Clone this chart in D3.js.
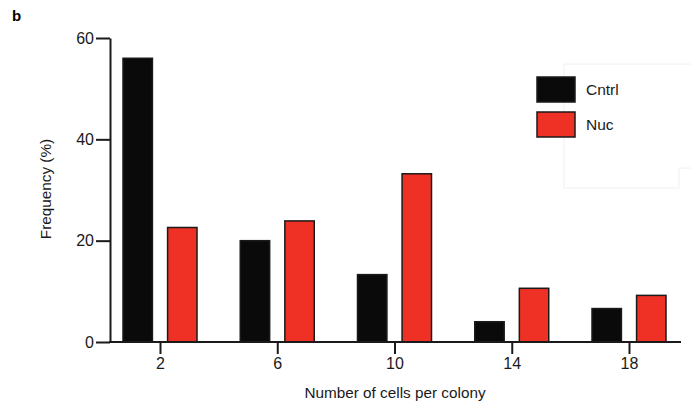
<!DOCTYPE html>
<html>
<head>
<meta charset="utf-8">
<script src="https://cdn.jsdelivr.net/npm/d3@7"></script>
<style>
  body { margin: 0; background: #fff; }
  text { font-family: "Liberation Sans", Arial, sans-serif; }
</style>
</head>
<body>
<div id="chart"></div>
<script>
// data
var colonySizes = ["2", "6", "10", "14", "18"];
var seriesNames = ["Cntrl", "Nuc"];
var cntrlValues = [56.0, 20.0, 13.3, 4.0, 6.6];
var nucValues = [22.6, 23.9, 33.2, 10.6, 9.2];
var yTicks = [0, 20, 40, 60];
var colors = ["#0a0a0a", "#ee3124"];

var svgWidth = 691, svgHeight = 414;

var svg = d3.select("#chart")
  .append("svg")
  .attr("width", svgWidth)
  .attr("height", svgHeight);

// scales
var xScale = d3.scalePoint()
  .domain(colonySizes)
  .range([160, 629]);

var xInner = d3.scaleBand()
  .domain(seriesNames)
  .range([-37, 37])
  .paddingInner(0.34);

var yScale = d3.scaleLinear()
  .domain([0, 60])
  .range([342, 38]);

// faint leftover box behind the legend
svg.append("path")
  .attr("d", "M564,64 H691 M564,64 V188 H679 V168 H691")
  .attr("fill", "none")
  .attr("stroke", "#f0f0f0")
  .attr("stroke-width", 1);

// bars
var rows = colonySizes.map(function(c, i) {
  return { size: c, values: [cntrlValues[i], nucValues[i]] };
});

var groups = svg.selectAll("g.grp")
  .data(rows)
  .enter()
  .append("g")
  .attr("class", "grp")
  .attr("transform", d => `translate(${xScale(d.size)},0)`);

groups.selectAll("rect")
  .data(d => d.values.map((v, j) => ({ name: seriesNames[j], value: v, j: j })))
  .enter()
  .append("rect")
  .attr("x", d => xInner(d.name))
  .attr("width", xInner.bandwidth())
  .attr("y", d => yScale(d.value))
  .attr("height", d => yScale(0) - yScale(d.value))
  .attr("fill", d => colors[d.j])
  .attr("stroke", "#1a1a1a")
  .attr("stroke-width", 1.5);

// axes
var xAxis = d3.axisBottom(xScale).tickSize(12).tickSizeOuter(0).tickPadding(4);
var yAxis = d3.axisLeft(yScale).tickValues(yTicks).tickSize(14).tickSizeOuter(0).tickPadding(2);

var gx = svg.append("g")
  .attr("transform", `translate(0, ${yScale(0)})`)
  .call(xAxis);
gx.select(".domain").remove();
gx.append("line")
  .attr("x1", 109).attr("x2", 681)
  .attr("stroke", "#1a1a1a").attr("stroke-width", 2);

var gy = svg.append("g")
  .attr("transform", "translate(110, 0)")
  .call(yAxis);

[gx, gy].forEach(function(g) {
  g.selectAll("line").attr("stroke", "#1a1a1a").attr("stroke-width", 2);
  g.select(".domain").attr("stroke", "#1a1a1a").attr("stroke-width", 2);
  g.selectAll("text")
    .attr("fill", "#1a1a1a")
    .style("font-size", "16px")
    .style("font-family", "'Liberation Sans', Arial, sans-serif");
});

// titles
svg.append("text")
  .attr("x", 395)
  .attr("y", 398)
  .attr("text-anchor", "middle")
  .style("font-size", "15.3px")
  .attr("fill", "#1a1a1a")
  .text("Number of cells per colony");

svg.append("text")
  .attr("transform", "translate(51, 189) rotate(-90)")
  .attr("text-anchor", "middle")
  .style("font-size", "15.3px")
  .attr("fill", "#1a1a1a")
  .text("Frequency (%)");

svg.append("text")
  .attr("x", 12)
  .attr("y", 21)
  .style("font-size", "15px")
  .style("font-weight", "bold")
  .text("b");

// legend
var legend = svg.selectAll("g.legend")
  .data(seriesNames)
  .enter()
  .append("g")
  .attr("class", "legend")
  .attr("transform", (d, i) => `translate(537, ${77 + i * 35})`);

legend.append("rect")
  .attr("width", 38)
  .attr("height", 25)
  .attr("fill", (d, i) => colors[i])
  .attr("stroke", "#1a1a1a")
  .attr("stroke-width", 1.5);

legend.append("text")
  .attr("x", 49)
  .attr("y", 18)
  .style("font-size", "15.5px")
  .attr("fill", "#1a1a1a")
  .text(d => d);
</script>
</body>
</html>
